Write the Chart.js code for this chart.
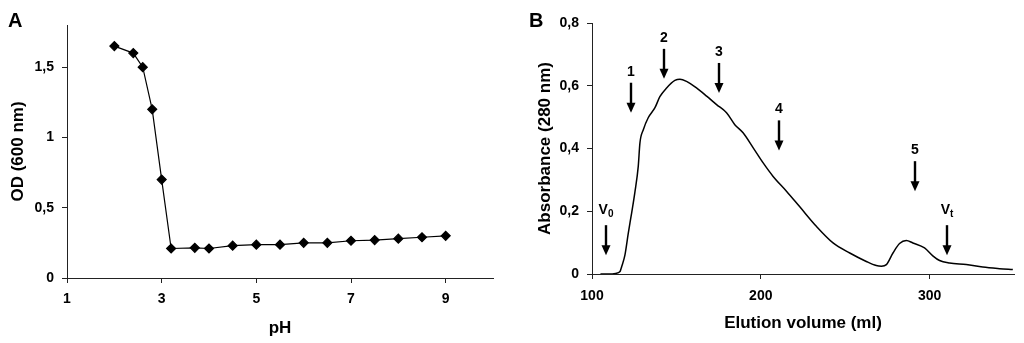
<!DOCTYPE html>
<html>
<head>
<meta charset="utf-8">
<script src="https://cdn.jsdelivr.net/npm/chart.js@4/dist/chart.umd.min.js"></script>
<style>
  html, body { margin: 0; padding: 0; background: #fff; }
  body { width: 1024px; height: 343px; position: relative; overflow: hidden; font-family: "Liberation Sans", Arial, sans-serif; }
  .pane { position: absolute; top: 0; width: 512px; height: 343px; }
  .letter { position: absolute; font-weight: bold; font-size: 20px; line-height: 20px; color: #000; }
</style>
</head>
<body>
<div class="pane" style="left:0"><canvas id="chartA" width="512" height="343"></canvas></div>
<div class="pane" style="left:512px"><canvas id="chartB" width="512" height="343"></canvas></div>
<div class="letter" style="left:8px; top:10px;">A</div>
<div class="letter" style="left:529px; top:10px;">B</div>
<script>
// ---------- Panel A data ----------
const phValues = [2, 2.4, 2.6, 2.8, 3.0, 3.2, 3.7, 4.0, 4.5, 5.0, 5.5, 6.0, 6.5, 7.0, 7.5, 8.0, 8.5, 9.0];
const odValues = [1.65, 1.60, 1.50, 1.20, 0.70, 0.21, 0.215, 0.21, 0.23, 0.237, 0.237, 0.25, 0.25, 0.265, 0.27, 0.28, 0.29, 0.30];
const xTicksA = [1, 3, 5, 7, 9];
const xTickLabelsA = ['1', '3', '5', '7', '9'];
const yTicksA = [0, 0.5, 1, 1.5];
const yTickLabelsA = ['0', '0,5', '1', '1,5'];

// ---------- Panel B data ----------
const elutionVolume = [105, 110, 114, 116.6, 117.6, 119.5, 121.5, 122.5, 123.5, 125.4, 127.4, 128.4, 130.4, 133.3, 137.3, 140.2, 144.2, 149.1, 152.1, 156, 161.9, 167.9, 173.8, 179.7, 184.6, 189.5, 195.5, 201.4, 207.3, 215.2, 223.1, 232.9, 242.8, 252.7, 262.5, 268.4, 271.5, 274.4, 278.3, 282.2, 286.2, 290.1, 297, 301.9, 305.9, 311.8, 321.7, 331.5, 341.4, 349.3];
const absorbance = [0, 0, 0.002, 0.008, 0.024, 0.06, 0.13, 0.163, 0.195, 0.26, 0.343, 0.418, 0.46, 0.498, 0.53, 0.565, 0.593, 0.617, 0.621, 0.614, 0.593, 0.567, 0.54, 0.514, 0.476, 0.45, 0.402, 0.354, 0.311, 0.264, 0.214, 0.152, 0.099, 0.067, 0.04, 0.027, 0.025, 0.03, 0.067, 0.097, 0.107, 0.099, 0.083, 0.058, 0.043, 0.035, 0.03, 0.022, 0.017, 0.014];
const xTicksB = [100, 200, 300];
const xTickLabelsB = ['100', '200', '300'];
const yTicksB = [0, 0.2, 0.4, 0.6, 0.8];
const yTickLabelsB = ['0', '0,2', '0,4', '0,6', '0,8'];

// Marker arrows (x in ml, tip y in absorbance units)
const arrowLabels = ['V', '1', '2', '3', '4', '5', 'V'];
const arrowSubs   = ['0', '', '', '', '', '', 't'];
const arrowX      = [108.3, 123.1, 142.6, 175.3, 210.7, 291.5, 310.5];
const arrowTipY   = [0.06, 0.514, 0.622, 0.577, 0.394, 0.264, 0.06];

// ---------- shared styling ----------
const FONT = '"Liberation Sans", Arial, Helvetica, sans-serif';
const AXIS = '#222';
Chart.defaults.font.family = FONT;
Chart.defaults.color = '#000';

function fixedTicks(vals) {
  return function (scale) { scale.ticks = vals.map(v => ({ value: v })); };
}
function labelFor(vals, labels) {
  return function (value) {
    const i = vals.findIndex(v => Math.abs(v - value) < 1e-9);
    return i >= 0 ? labels[i] : '';
  };
}
function axisCommon() {
  return {
    grid: { display: true, drawOnChartArea: false, drawTicks: true, tickLength: 5, color: AXIS, lineWidth: 1 },
    border: { display: true, color: AXIS, width: 1 },
  };
}

// ---------- Chart A ----------
new Chart(document.getElementById('chartA'), {
  type: 'line',
  data: {
    datasets: [{
      data: phValues.map((v, i) => ({ x: v, y: odValues[i] })),
      borderColor: '#000',
      backgroundColor: '#000',
      borderWidth: 1.2,
      pointStyle: 'rectRot',
      pointRadius: 4.5,
      pointHoverRadius: 4.5,
      pointBackgroundColor: '#000',
      pointBorderColor: '#000',
      tension: 0,
    }]
  },
  options: {
    responsive: false,
    animation: false,
    layout: { padding: { left: 0, right: 19, top: 25, bottom: 0 } },
    plugins: { legend: { display: false }, tooltip: { enabled: false } },
    scales: {
      x: Object.assign(axisCommon(), {
        type: 'linear', min: 1, max: 10,
        afterBuildTicks: fixedTicks(xTicksA),
        afterFit: s => { s.height = 65; },
        ticks: { callback: labelFor(xTicksA, xTickLabelsA), font: { size: 14, weight: 'bold' }, padding: 8, maxRotation: 0 },
        title: { display: true, text: 'pH', font: { size: 17, weight: 'bold' }, padding: { top: 0, bottom: 4 } },
      }),
      y: Object.assign(axisCommon(), {
        type: 'linear', min: 0, max: 1.8,
        afterBuildTicks: fixedTicks(yTicksA),
        afterFit: s => { s.width = 67; },
        ticks: { callback: labelFor(yTicksA, yTickLabelsA), font: { size: 14, weight: 'bold' }, padding: 8 },
        title: { display: true, text: 'OD (600 nm)', font: { size: 17, weight: 'bold' }, padding: { top: 8, bottom: 0 } },
      }),
    }
  }
});

// ---------- arrow plugin for Chart B ----------
const arrowPlugin = {
  id: 'elutionArrows',
  afterDatasetsDraw(chart) {
    const ctx = chart.ctx;
    const xs = chart.scales.x, ys = chart.scales.y;
    ctx.save();
    ctx.fillStyle = '#000';
    ctx.strokeStyle = '#000';
    for (let i = 0; i < arrowX.length; i++) {
      const px = Math.round(xs.getPixelForValue(arrowX[i]));
      const tip = ys.getPixelForValue(arrowTipY[i]);
      const top = tip - 30;
      ctx.lineWidth = 2.4;
      ctx.beginPath();
      ctx.moveTo(px, top);
      ctx.lineTo(px, tip - 8);
      ctx.stroke();
      ctx.beginPath();
      ctx.moveTo(px - 4.5, tip - 10);
      ctx.lineTo(px + 4.5, tip - 10);
      ctx.lineTo(px, tip);
      ctx.closePath();
      ctx.fill();
      // label
      const main = arrowLabels[i], sub = arrowSubs[i];
      ctx.textBaseline = 'alphabetic';
      ctx.font = 'bold 14px ' + FONT;
      const mw = ctx.measureText(main).width;
      let sw = 0;
      if (sub) { ctx.font = 'bold 10px ' + FONT; sw = ctx.measureText(sub).width; }
      const total = mw + sw;
      const baseY = sub ? top - 11 : top - 7;
      const startX = px - total / 2;
      ctx.textAlign = 'left';
      ctx.font = 'bold 14px ' + FONT;
      ctx.fillText(main, startX, baseY);
      if (sub) {
        ctx.font = 'bold 10px ' + FONT;
        ctx.fillText(sub, startX + mw, baseY + 3);
      }
    }
    ctx.restore();
  }
};

// ---------- Chart B ----------
new Chart(document.getElementById('chartB'), {
  type: 'line',
  data: {
    datasets: [{
      data: elutionVolume.map((v, i) => ({ x: v, y: absorbance[i] })),
      borderColor: '#000',
      borderWidth: 1.5,
      pointRadius: 0,
      pointHoverRadius: 0,
      fill: false,
      cubicInterpolationMode: 'monotone',
    }]
  },
  options: {
    responsive: false,
    animation: false,
    layout: { padding: { left: 0, right: 10, top: 23, bottom: 0 } },
    plugins: { legend: { display: false }, tooltip: { enabled: false } },
    scales: {
      x: Object.assign(axisCommon(), {
        type: 'linear', min: 100, max: 350,
        afterBuildTicks: fixedTicks(xTicksB),
        afterFit: s => { s.height = 69; },
        ticks: { callback: labelFor(xTicksB, xTickLabelsB), font: { size: 14, weight: 'bold' }, padding: 9, maxRotation: 0 },
        title: { display: true, text: 'Elution volume (ml)', font: { size: 17, weight: 'bold' }, padding: { top: 0, bottom: 9 } },
      }),
      y: Object.assign(axisCommon(), {
        type: 'linear', min: 0, max: 0.8,
        afterBuildTicks: fixedTicks(yTicksB),
        afterFit: s => { s.width = 80; },
        ticks: { callback: labelFor(yTicksB, yTickLabelsB), font: { size: 14, weight: 'bold' }, padding: 8 },
        title: { display: true, text: 'Absorbance (280 nm)', font: { size: 17, weight: 'bold' }, padding: { top: 23, bottom: 0 } },
      }),
    }
  },
  plugins: [arrowPlugin]
});
</script>
</body>
</html>
